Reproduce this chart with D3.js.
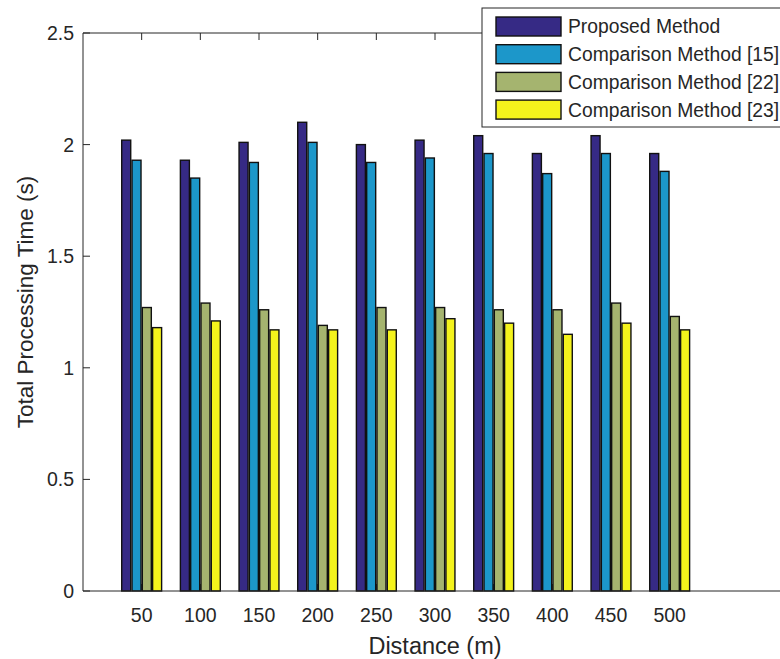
<!DOCTYPE html>
<html>
<head>
<meta charset="utf-8">
<script src="https://cdn.jsdelivr.net/npm/d3@7"></script>
<style>
  body { margin: 0; background: #fff; }
  svg { display: block; font-family: "Liberation Sans", Arial, sans-serif; }
</style>
</head>
<body>
<div id="chart"></div>
<script>
const distances = [50, 100, 150, 200, 250, 300, 350, 400, 450, 500];
const seriesNames = ['Proposed Method', 'Comparison Method [15]', 'Comparison Method [22]', 'Comparison Method [23]'];
const proposed = [2.02, 1.93, 2.01, 2.10, 2.00, 2.02, 2.04, 1.96, 2.04, 1.96];
const method15 = [1.93, 1.85, 1.92, 2.01, 1.92, 1.94, 1.96, 1.87, 1.96, 1.88];
const method22 = [1.27, 1.29, 1.26, 1.19, 1.27, 1.27, 1.26, 1.26, 1.29, 1.23];
const method23 = [1.18, 1.21, 1.17, 1.17, 1.17, 1.22, 1.20, 1.15, 1.20, 1.17];
const yTicks = [0, 0.5, 1, 1.5, 2, 2.5];
const colors = ['#362a85', '#1c97ca', '#a5b46f', '#f4f31c'];

const allSeries = [proposed, method15, method22, method23];

const W = 780, H = 659;
const plotLeft = 83, plotRight = 787, plotTop = 33, plotBottom = 591;
const ink = '#262626';

const svg = d3.select('#chart').append('svg')
  .attr('width', W)
  .attr('height', H);

const x = d3.scaleLinear().domain([0, 600]).range([plotLeft, plotRight]);
const y = d3.scaleLinear().domain([0, 2.5]).range([plotBottom, plotTop]);

// grouped offsets, in pixels
const groupPx = x(34) - x(0);
const inner = d3.scaleBand()
  .domain(d3.range(seriesNames.length))
  .range([-groupPx / 2, groupPx / 2])
  .paddingInner(0.126);

const tickLen = 7;

// bottom ticks (under bars)
svg.append('g')
  .selectAll('line')
  .data(distances)
  .join('line')
  .attr('x1', d => x(d)).attr('x2', d => x(d))
  .attr('y1', plotBottom).attr('y2', plotBottom - tickLen)
  .attr('stroke', ink);

// bars
const groups = svg.append('g')
  .selectAll('g')
  .data(allSeries)
  .join('g')
  .attr('fill', (d, i) => colors[i]);

groups.selectAll('rect')
  .data((vals, i) => vals.map((v, j) => ({ v, d: distances[j], i })))
  .join('rect')
  .attr('x', d => x(d.d) + inner(d.i))
  .attr('width', inner.bandwidth())
  .attr('y', d => y(d.v))
  .attr('height', d => y(0) - y(d.v))
  .attr('stroke', '#111')
  .attr('stroke-width', 1.4);

// axes box
const axisG = svg.append('g').attr('stroke', ink).attr('fill', 'none');
axisG.append('path')
  .attr('d', `M${plotLeft},${plotTop}H${plotRight}V${plotBottom}H${plotLeft}Z`)
  .attr('stroke-width', 1);

axisG.selectAll('.tt')
  .data(distances)
  .join('line')
  .attr('class', 'tt')
  .attr('x1', d => x(d)).attr('x2', d => x(d))
  .attr('y1', plotTop).attr('y2', plotTop + tickLen);

axisG.selectAll('.lt')
  .data(yTicks)
  .join('line')
  .attr('class', 'lt')
  .attr('x1', plotLeft).attr('x2', plotLeft + tickLen)
  .attr('y1', d => y(d)).attr('y2', d => y(d));

axisG.selectAll('.rt')
  .data(yTicks)
  .join('line')
  .attr('class', 'rt')
  .attr('x1', plotRight).attr('x2', plotRight - tickLen)
  .attr('y1', d => y(d)).attr('y2', d => y(d))
  .attr('stroke-opacity', 0.3);

// tick labels
svg.append('g')
  .selectAll('text')
  .data(yTicks)
  .join('text')
  .attr('x', plotLeft - 9)
  .attr('y', d => y(d))
  .attr('dy', '0.36em')
  .attr('text-anchor', 'end')
  .attr('font-size', 19.5)
  .attr('fill', ink)
  .text(d => d);

svg.append('g')
  .selectAll('text')
  .data(distances)
  .join('text')
  .attr('x', d => x(d))
  .attr('y', 622)
  .attr('text-anchor', 'middle')
  .attr('font-size', 19.5)
  .attr('fill', ink)
  .text(d => d);

// axis labels
svg.append('text')
  .attr('x', 435)
  .attr('y', 654)
  .attr('text-anchor', 'middle')
  .attr('font-size', 23.5)
  .attr('fill', ink)
  .text('Distance (m)');

svg.append('text')
  .attr('transform', `translate(33,302) rotate(-90)`)
  .attr('text-anchor', 'middle')
  .attr('font-size', 22.5)
  .attr('fill', ink)
  .text('Total Processing Time (s)');

// legend
const legend = svg.append('g').attr('transform', 'translate(482,8)');
legend.append('rect')
  .attr('width', 304).attr('height', 119)
  .attr('fill', '#fff')
  .attr('stroke', ink);

const rows = legend.selectAll('g')
  .data(seriesNames)
  .join('g')
  .attr('transform', (d, i) => `translate(0,${9 + i * 27.7})`);

rows.append('rect')
  .attr('x', 14).attr('width', 65)
  .attr('height', 19)
  .attr('fill', (d, i) => colors[i])
  .attr('stroke', '#111')
  .attr('stroke-width', 1.4);

rows.append('text')
  .attr('x', 86)
  .attr('y', 9.5)
  .attr('dy', '0.36em')
  .attr('font-size', 19.3)
  .attr('fill', ink)
  .text(d => d);
</script>
</body>
</html>
